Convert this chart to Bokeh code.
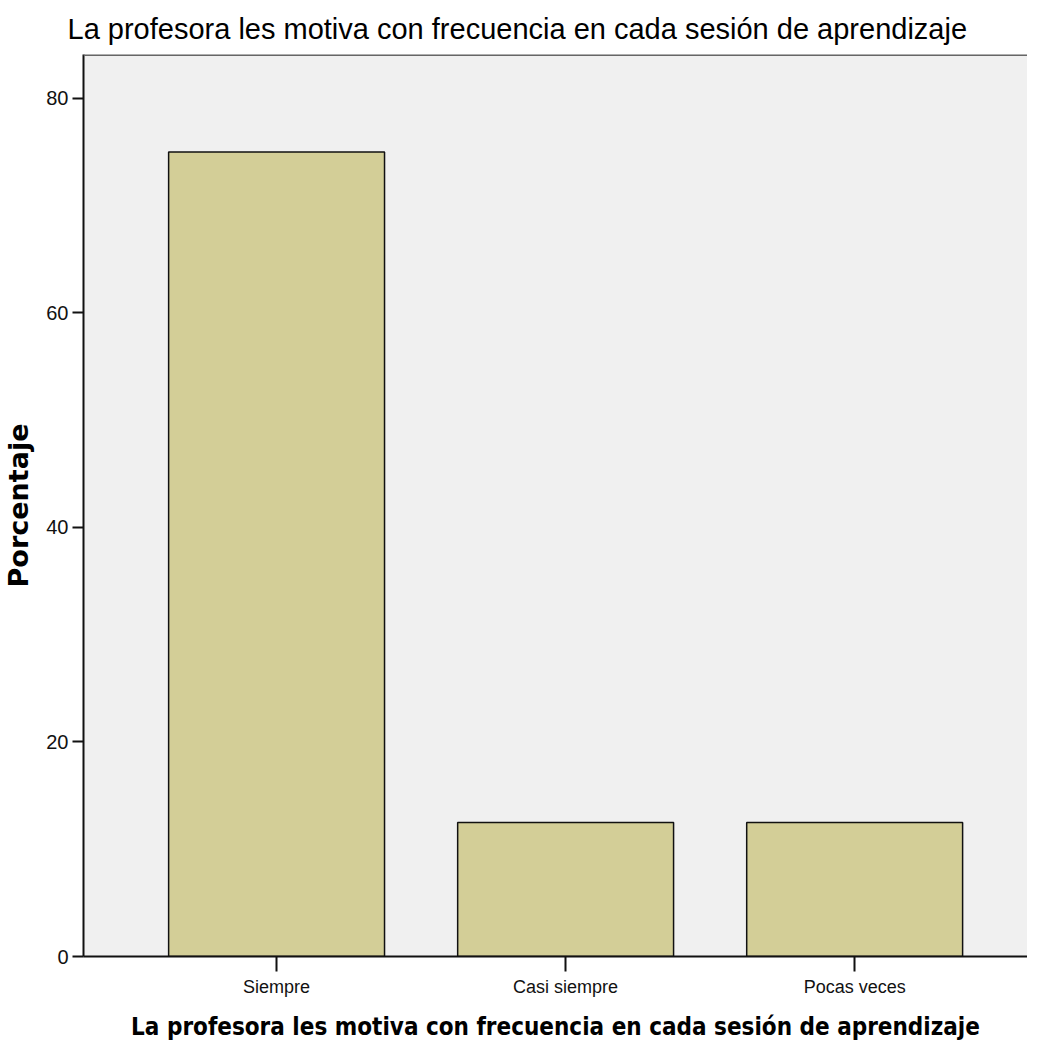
from bokeh.plotting import figure
from bokeh.models import ColumnDataSource, FixedTicker, Range1d, Span, Title
from bokeh.embed import file_html
from bokeh.resources import INLINE

categories = ["Siempre", "Casi siempre", "Pocas veces"]
percentages = [75.0, 12.5, 12.5]
y_ticks = [0, 20, 40, 60, 80]

title_text = "La profesora les motiva con frecuencia en cada sesión de aprendizaje"
x_label = "La profesora les motiva con frecuencia en cada sesión de aprendizaje"
y_label = "Porcentaje"

positions = list(range(len(categories)))
source = ColumnDataSource(dict(x=positions, top=percentages, cat=categories))

p = figure(width=1027, height=1043, output_backend="svg", toolbar_location=None,
           x_range=Range1d(-0.668, 2.598), y_range=Range1d(0, 84.1),
           min_border_left=75, min_border_right=0, min_border_top=10, min_border_bottom=10)

p.background_fill_color = "#F0F0F0"
p.border_fill_color = "white"
p.outline_line_color = None
p.grid.visible = False

p.vbar(x="x", top="top", width=0.747, source=source,
       fill_color="#D3CE97", line_color="#111111", line_width=1.5)

# top border of the plot frame
p.add_layout(Span(location=84.1, dimension="width", line_color="#666666", line_width=3))

t = Title(text=title_text, align="left", offset=-16,
          text_font="Liberation Sans", text_font_size="29px",
          text_font_style="normal", text_color="#000000", standoff=20)
p.add_layout(t, "above")

# x axis
p.xaxis.ticker = FixedTicker(ticks=positions)
p.xaxis.major_label_overrides = {i: c for i, c in enumerate(categories)}
p.xaxis.major_label_text_font = "Liberation Sans"
p.xaxis.major_label_text_font_size = "18px"
p.xaxis.major_label_text_color = "#111111"
p.xaxis.major_label_standoff = 5
p.xaxis.major_tick_out = 15
p.xaxis.major_tick_in = 0
p.xaxis.minor_tick_line_color = None
p.xaxis.axis_line_color = "#111111"
p.xaxis.axis_line_width = 2
p.xaxis.major_tick_line_width = 2
p.xaxis.major_tick_line_color = "#111111"
p.xaxis.axis_label = x_label
p.xaxis.axis_label_text_font = "DejaVu Sans Condensed"
p.xaxis.axis_label_text_font_style = "bold"
p.xaxis.axis_label_text_font_size = "24px"
p.xaxis.axis_label_text_color = "#000000"
p.xaxis.axis_label_standoff = 13

# y axis
p.yaxis.ticker = FixedTicker(ticks=y_ticks)
p.yaxis.major_label_text_font = "Liberation Sans"
p.yaxis.major_label_text_font_size = "20px"
p.yaxis.major_label_text_color = "#111111"
p.yaxis.major_label_standoff = 4
p.yaxis.major_tick_out = 11
p.yaxis.major_tick_in = 0
p.yaxis.minor_tick_line_color = None
p.yaxis.axis_line_color = "#111111"
p.yaxis.axis_line_width = 2
p.yaxis.major_tick_line_width = 2
p.yaxis.major_tick_line_color = "#111111"
p.yaxis.axis_label = y_label
p.yaxis.axis_label_text_font = "DejaVu Sans"
p.yaxis.axis_label_text_font_style = "bold"
p.yaxis.axis_label_text_font_size = "27px"
p.yaxis.axis_label_text_color = "#000000"
p.yaxis.axis_label_standoff = 9

open("out.html", "w").write(file_html(p, INLINE))
